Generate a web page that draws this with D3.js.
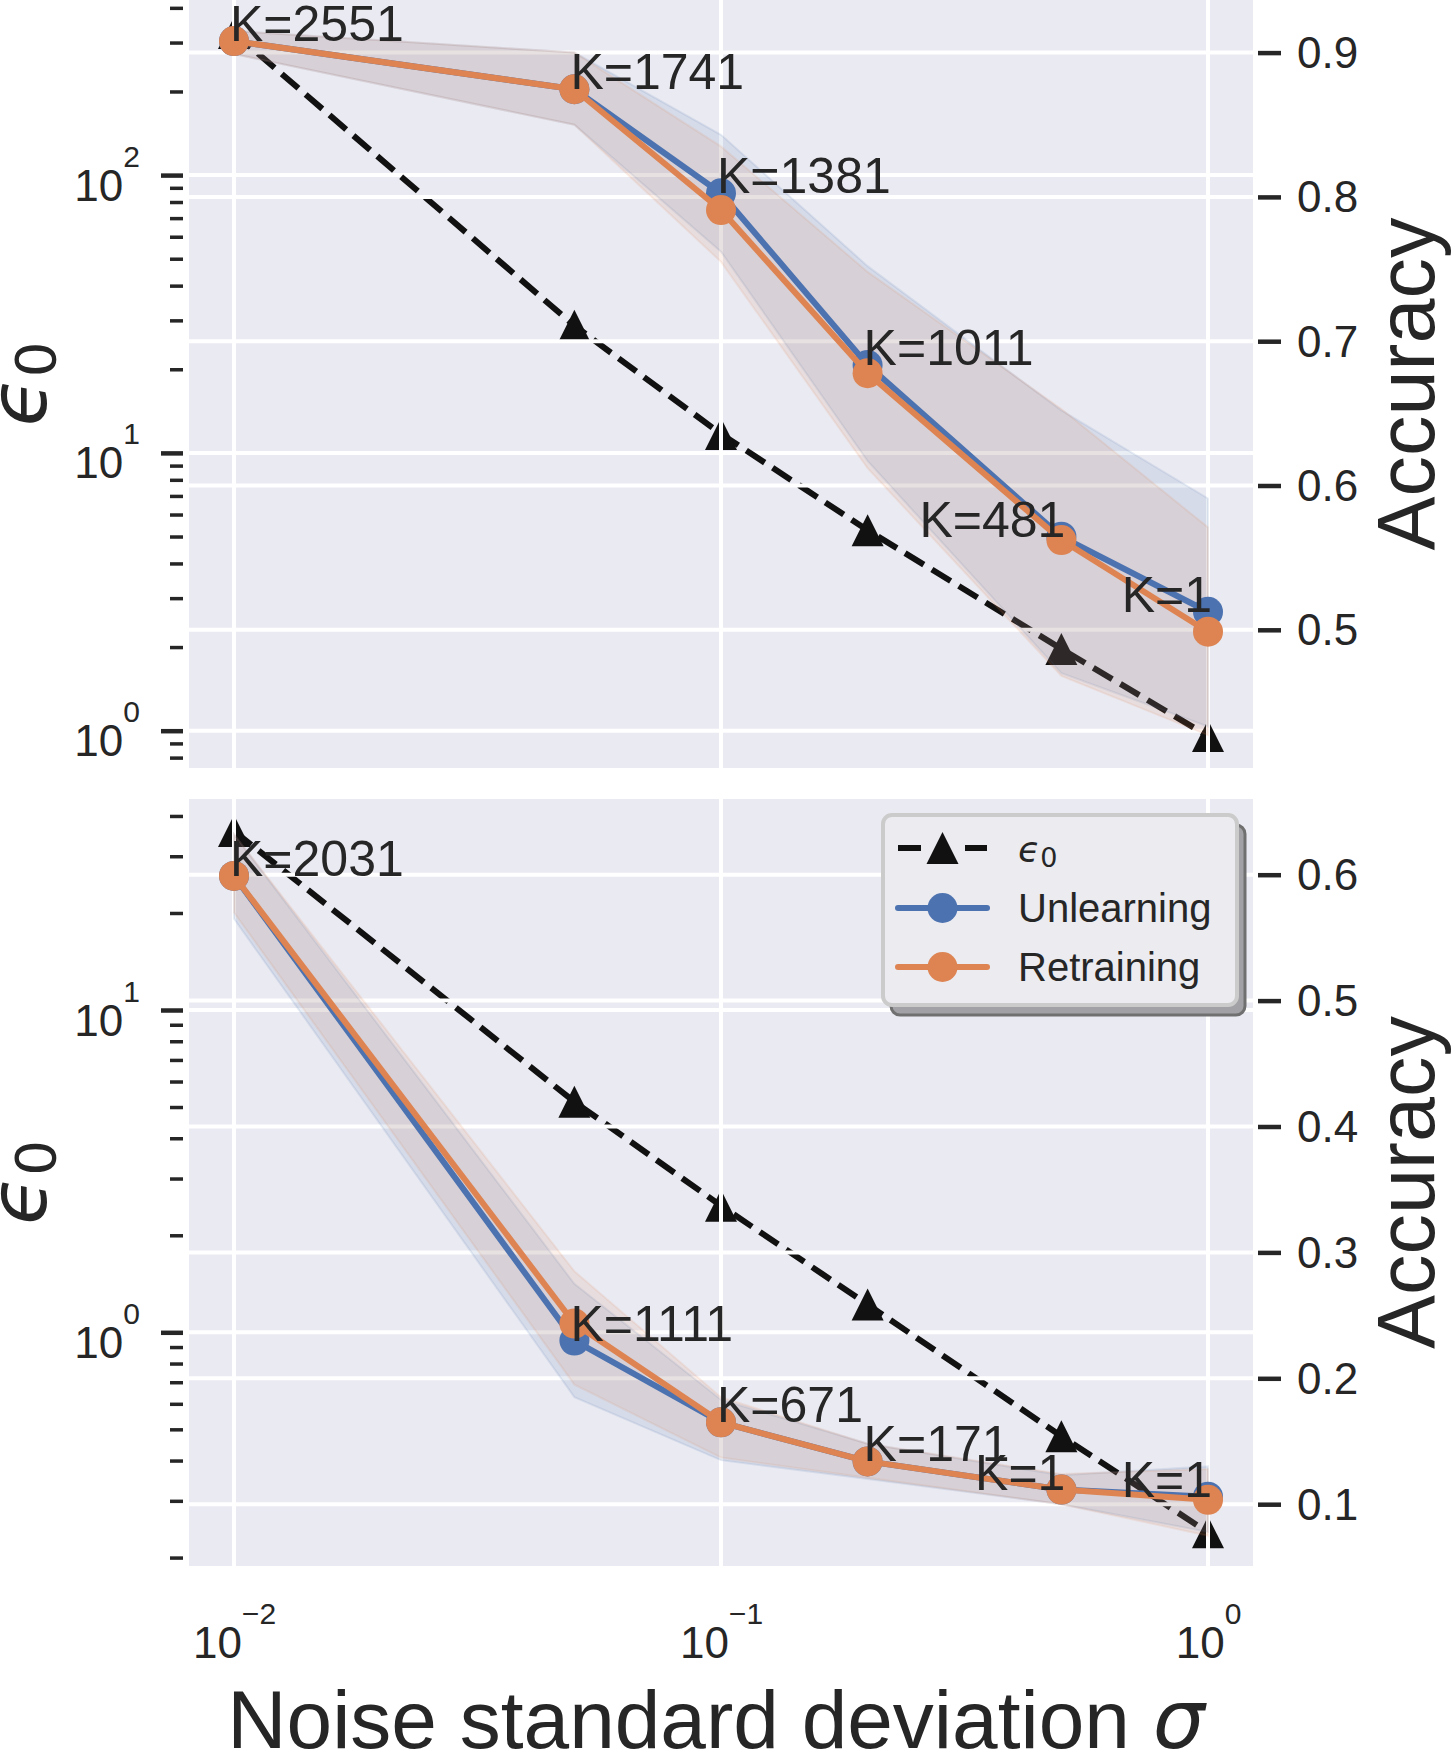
<!DOCTYPE html>
<html>
<head>
<meta charset="utf-8">
<script src="https://cdn.jsdelivr.net/npm/d3@7"></script>
<style>
  html, body { margin: 0; padding: 0; background: #ffffff; }
  svg { display: block; }
</style>
</head>
<body>
<svg id="chart" width="1454" height="1754"></svg>
<script>
// ---------------- data ----------------
const sigma = [0.01, 0.05, 0.1, 0.2, 0.5, 1.0];

const epsTop   = [325, 28.7, 11.7, 5.27, 1.97, 0.957];
const unlTop   = [0.908, 0.8746, 0.8025, 0.6835, 0.5645, 0.5125];
const retTop   = [0.908, 0.8746, 0.7909, 0.6778, 0.5622, 0.4987];
const unlTopLo = [0.899, 0.850, 0.762, 0.617, 0.470, 0.433];
const unlTopHi = [0.915, 0.900, 0.843, 0.752, 0.652, 0.591];
const retTopLo = [0.899, 0.850, 0.755, 0.612, 0.468, 0.427];
const retTopHi = [0.915, 0.900, 0.835, 0.748, 0.653, 0.571];
const kTop     = ["K=2551", "K=1741", "K=1381", "K=1011", "K=481", "K=1"];

const epsBot   = [35.9, 5.19, 2.47, 1.22, 0.476, 0.2395];
const unlBot   = [0.599, 0.230, 0.165, 0.134, 0.1116, 0.106];
const retBot   = [0.599, 0.2435, 0.165, 0.134, 0.1116, 0.1035];
const unlBotLo = [0.565, 0.185, 0.135, 0.120, 0.100, 0.078];
const unlBotHi = [0.632, 0.275, 0.183, 0.148, 0.123, 0.130];
const retBotLo = [0.570, 0.195, 0.137, 0.121, 0.100, 0.075];
const retBotHi = [0.632, 0.285, 0.185, 0.148, 0.124, 0.128];
const kBot     = ["K=2031", "K=1111", "K=671", "K=171", "K=1", "K=1"];
const kAlign   = ["start", "start", "start", "start", "end", "end"];

const accTicksTop = [0.5, 0.6, 0.7, 0.8, 0.9];
const accTicksBot = [0.1, 0.2, 0.3, 0.4, 0.5, 0.6];
const xTicks      = [0.01, 0.1, 1];
const xTickExp    = ["\u22122", "\u22121", "0"];
const legendNames = ["\u03F5", "Unlearning", "Retraining"];

// ---------------- styling ----------------
const BG = "#EAEAF2", BLUE = "#4C72B0", ORANGE = "#DD8452", INK = "#262626";
const SANS = "'Liberation Sans', Arial, Helvetica, sans-serif";
const MATH = "'DejaVu Sans', sans-serif";
const L = 189, R = 1253;

const svg = d3.select("#chart");
const defs = svg.append("defs");

const x = d3.scaleLog().domain([Math.pow(10, -2.0924), Math.pow(10, 0.0924)]).range([L, R]);

const panels = [
  { y0: 0, y1: 768, epsDom: [Math.pow(10, -0.1343), Math.pow(10, 2.6303)], accDom: [0.40423, 0.93645],
    eps: epsTop, unl: unlTop, ret: retTop, unlLo: unlTopLo, unlHi: unlTopHi, retLo: retTopLo, retHi: retTopHi,
    k: kTop, accTicks: accTicksTop, legend: false, xlabels: false },
  { y0: 799, y1: 1566, epsDom: [Math.pow(10, -0.7251), Math.pow(10, 1.6547)], accDom: [0.05091, 0.66013],
    eps: epsBot, unl: unlBot, ret: retBot, unlLo: unlBotLo, unlHi: unlBotHi, retLo: retBotLo, retHi: retBotHi,
    k: kBot, accTicks: accTicksBot, legend: true, xlabels: true }
];

function triPath(s) { return `M0,${-s} L${s},${s} L${-s},${s} Z`; }

panels.forEach((p, i) => {
  const yE = d3.scaleLog().domain(p.epsDom).range([p.y1, p.y0]);
  const yA = d3.scaleLinear().domain(p.accDom).range([p.y1, p.y0]);

  defs.append("clipPath").attr("id", "clip" + i)
    .append("rect").attr("x", L).attr("y", p.y0).attr("width", R - L).attr("height", p.y1 - p.y0);

  const g = svg.append("g");
  g.append("rect").attr("x", L).attr("y", p.y0).attr("width", R - L).attr("height", p.y1 - p.y0).attr("fill", BG);

  const clipG = g.append("g").attr("clip-path", `url(#clip${i})`);

  // --- ax1 grid (vertical + log majors) ---
  const epsTicks = yE.ticks();
  const isMajor = t => Math.abs(Math.log10(t) - Math.round(Math.log10(t))) < 1e-9;
  const majors = epsTicks.filter(isMajor);
  const minors = epsTicks.filter(t => !isMajor(t));

  clipG.append("g").selectAll("line").data(xTicks).join("line")
    .attr("x1", d => x(d)).attr("x2", d => x(d)).attr("y1", p.y0).attr("y2", p.y1)
    .attr("stroke", "#fff").attr("stroke-width", 4);
  clipG.append("g").selectAll("line").data(majors).join("line")
    .attr("x1", L).attr("x2", R).attr("y1", d => yE(d)).attr("y2", d => yE(d))
    .attr("stroke", "#fff").attr("stroke-width", 4);

  // --- ax1: epsilon line ---
  const lineE = d3.line().x((d, j) => x(sigma[j])).y(d => yE(d));
  clipG.append("path").datum(p.eps).attr("d", lineE)
    .attr("fill", "none").attr("stroke", "#111").attr("stroke-width", 6)
    .attr("stroke-dasharray", "22,9.5");
  clipG.append("g").selectAll("path").data(p.eps).join("path")
    .attr("d", triPath(16))
    .attr("transform", (d, j) => `translate(${x(sigma[j])},${yE(d)})`)
    .attr("fill", "#111");

  // --- ax2 grid ---
  clipG.append("g").selectAll("line").data(xTicks).join("line")
    .attr("x1", d => x(d)).attr("x2", d => x(d)).attr("y1", p.y0).attr("y2", p.y1)
    .attr("stroke", "#fff").attr("stroke-width", 4);
  clipG.append("g").selectAll("line").data(p.accTicks).join("line")
    .attr("x1", L).attr("x2", R).attr("y1", d => yA(d)).attr("y2", d => yA(d))
    .attr("stroke", "#fff").attr("stroke-width", 4);

  // --- ax2 bands ---
  const band = (lo, hi) => d3.area().x((d, j) => x(sigma[j])).y0((d, j) => yA(lo[j])).y1((d, j) => yA(hi[j]))(sigma);
  clipG.append("path").attr("d", band(p.unlLo, p.unlHi))
    .attr("fill", BLUE).attr("fill-opacity", 0.12)
    .attr("stroke", BLUE).attr("stroke-opacity", 0.12).attr("stroke-width", 2);
  clipG.append("path").attr("d", band(p.retLo, p.retHi))
    .attr("fill", ORANGE).attr("fill-opacity", 0.12)
    .attr("stroke", ORANGE).attr("stroke-opacity", 0.12).attr("stroke-width", 2);

  // --- ax2 lines ---
  const lineA = d3.line().x((d, j) => x(sigma[j])).y(d => yA(d));
  [[p.unl, BLUE], [p.ret, ORANGE]].forEach(([vals, col]) => {
    clipG.append("path").datum(vals).attr("d", lineA)
      .attr("fill", "none").attr("stroke", col).attr("stroke-width", 6).attr("stroke-linejoin", "round");
    clipG.append("g").selectAll("circle").data(vals).join("circle")
      .attr("cx", (d, j) => x(sigma[j])).attr("cy", d => yA(d)).attr("r", 15).attr("fill", col);
  });

  // --- annotations ---
  g.append("g").selectAll("text").data(p.k).join("text")
    .attr("x", (d, j) => x(sigma[j]) + (kAlign[j] === "start" ? -4 : 4))
    .attr("y", (d, j) => yA(p.unl[j]))
    .attr("text-anchor", (d, j) => kAlign[j])
    .attr("font-family", SANS).attr("font-size", 50).attr("fill", INK)
    .text(d => d);

  // --- left axis (log) ---
  const axMinor = g.append("g").attr("transform", "translate(183,0)")
    .call(d3.axisLeft(yE).tickValues(minors).tickSize(13).tickFormat(""));
  axMinor.select(".domain").remove();
  axMinor.selectAll("line").attr("stroke", INK).attr("stroke-width", 3.5);

  const axMajor = g.append("g").attr("transform", "translate(183,0)")
    .call(d3.axisLeft(yE).tickValues(majors).tickSize(22).tickPadding(21).tickFormat(""));
  axMajor.select(".domain").remove();
  axMajor.selectAll("line").attr("stroke", INK).attr("stroke-width", 4.5);
  axMajor.selectAll("text")
    .attr("dy", 25).attr("fill", INK).attr("font-family", SANS).attr("font-size", 44).attr("text-anchor", "end")
    .each(function (d) {
      const t = d3.select(this);
      t.text(null);
      t.append("tspan").text("10");
      t.append("tspan").attr("font-size", 30).attr("dy", -34).text(String(Math.round(Math.log10(d))));
    });

  // --- right axis (accuracy) ---
  const axR = g.append("g").attr("transform", "translate(1258,0)")
    .call(d3.axisRight(yA).tickValues(p.accTicks).tickSize(23).tickPadding(16).tickFormat(d3.format(".1f")));
  axR.select(".domain").remove();
  axR.selectAll("line").attr("stroke", INK).attr("stroke-width", 4.5);
  axR.selectAll("text").attr("fill", INK).attr("font-family", SANS).attr("font-size", 44).attr("dy", 15);

  // --- y labels ---
  const cy = (p.y0 + p.y1) / 2;
  const lab = g.append("text").attr("transform", `translate(46,${cy}) rotate(-90)`)
    .attr("text-anchor", "middle").attr("fill", INK).attr("font-family", MATH).attr("font-size", 80);
  lab.append("tspan").attr("font-style", "italic").text("\u03F5");
  lab.append("tspan").attr("font-size", 56).attr("dy", 9).text("0");

  g.append("text").attr("transform", `translate(1434,${cy}) rotate(-90)`)
    .attr("text-anchor", "middle").attr("fill", INK).attr("font-family", SANS).attr("font-size", 81)
    .text("Accuracy");

  // --- x axis labels ---
  if (p.xlabels) {
    const axX = g.append("g").attr("transform", `translate(0,${p.y1})`)
      .call(d3.axisBottom(x).tickValues(xTicks).tickSize(0).tickFormat(""));
    axX.select(".domain").remove();
    axX.selectAll("text")
      .attr("y", 92).attr("dy", 0).attr("fill", INK).attr("font-family", SANS).attr("font-size", 44)
      .attr("text-anchor", "middle")
      .each(function (d, j) {
        const t = d3.select(this);
        t.text(null);
        t.append("tspan").text("10");
        t.append("tspan").attr("font-size", 30).attr("dy", -34).text(xTickExp[j]);
      });
    const xl = g.append("text").attr("x", (L + R) / 2 - 5).attr("y", 1748)
      .attr("text-anchor", "middle").attr("fill", INK).attr("font-family", SANS).attr("font-size", 82);
    xl.append("tspan").text("Noise standard deviation ");
    xl.append("tspan").attr("font-family", MATH).attr("font-style", "italic").text("\u03C3");
  }

  // --- legend ---
  if (p.legend) {
    const lg = g.append("g");
    const lx = 883, ly = 815, lw = 354, lh = 190;
    lg.append("rect").attr("x", lx + 8).attr("y", ly + 10).attr("width", lw).attr("height", lh)
      .attr("rx", 9).attr("fill", "#a2a2a6").attr("stroke", "#707070").attr("stroke-width", 3);
    lg.append("rect").attr("x", lx).attr("y", ly).attr("width", lw).attr("height", lh)
      .attr("rx", 9).attr("fill", "#EBEBF0").attr("stroke", "#cbcbcb").attr("stroke-width", 4);
    const rows = [848, 908, 967];
    const hx0 = 898, hx1 = 987, hc = 942.5;
    // epsilon entry
    lg.append("line").attr("x1", hx0).attr("x2", hx1).attr("y1", rows[0]).attr("y2", rows[0])
      .attr("stroke", "#111").attr("stroke-width", 6).attr("stroke-dasharray", "23,44");
    lg.append("path").attr("d", triPath(16)).attr("transform", `translate(${hc},${rows[0]})`).attr("fill", "#111");
    // unlearning / retraining entries
    [[rows[1], BLUE], [rows[2], ORANGE]].forEach(([yy, col]) => {
      lg.append("line").attr("x1", hx0).attr("x2", hx1).attr("y1", yy).attr("y2", yy)
        .attr("stroke", col).attr("stroke-width", 6).attr("stroke-linecap", "round");
      lg.append("circle").attr("cx", hc).attr("cy", yy).attr("r", 15).attr("fill", col);
    });
    const te = lg.append("text").attr("x", 1018).attr("y", rows[0] + 14)
      .attr("fill", INK).attr("font-family", MATH).attr("font-size", 36);
    te.append("tspan").attr("font-style", "italic").text(legendNames[0]);
    te.append("tspan").attr("font-size", 27).attr("dy", 5).text("0");
    lg.append("text").attr("x", 1018).attr("y", rows[1] + 14).attr("fill", INK)
      .attr("font-family", SANS).attr("font-size", 40).text(legendNames[1]);
    lg.append("text").attr("x", 1018).attr("y", rows[2] + 14).attr("fill", INK)
      .attr("font-family", SANS).attr("font-size", 40).text(legendNames[2]);
  }
});
</script>
</body>
</html>
